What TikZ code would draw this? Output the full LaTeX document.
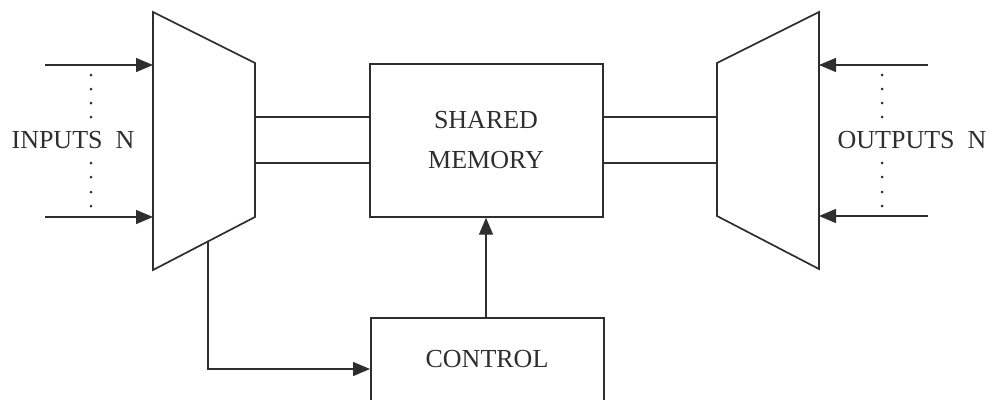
\documentclass[tikz,border=0pt]{standalone}
\usepackage{fontspec}
\setmainfont{Liberation Serif}
\usetikzlibrary{arrows.meta}
\definecolor{ink}{HTML}{2E2E2E}
\tikzset{
  line/.style={draw=ink, line width=1.4pt},
  box/.style={draw=ink, line width=1.7pt, minimum width=233pt, anchor=north west},
  lbl/.style={font=\fontsize{26}{31}\selectfont, text=ink, align=center, inner sep=0pt},
  tip/.style={-{Triangle[length=17pt,width=14pt,fill=ink]}, draw=ink, line width=1.4pt},
  dotrow/.style={ink, fill=ink}
}
\begin{document}
\begin{tikzpicture}[x=1pt,y=-1pt]
  \useasboundingbox (0,0) rectangle (992,399);

  % switch corners
  \coordinate (lTL) at (153,12);
  \coordinate (lBL) at (153,270);
  \coordinate (lTR) at (255,63);
  \coordinate (lBR) at (255,217);
  \coordinate (rTR) at (819,12);
  \coordinate (rBR) at (819,269);
  \coordinate (rTL) at (717,63);
  \coordinate (rBL) at (717,216);
  \draw[line, line width=1.7pt, line join=miter] (lTL) -- (lTR) -- (lBR) -- (lBL) -- cycle;
  \draw[line, line width=1.7pt, line join=miter] (rTR) -- (rTL) -- (rBL) -- (rBR) -- cycle;

  % boxes
  \node[box, minimum height=153pt] (mem) at (369,63) {};
  \node[lbl] (memtxt) at (486,140) {SHARED\\[9pt]MEMORY};
  \node[box, minimum height=100pt] (ctl) at (370,317) {};
  \node[lbl] (ctltxt) at (487,359) {CONTROL};

  % labels
  \node[lbl] (inlbl) at (73,140) {INPUTS\ \ N};
  \node[lbl] (outlbl) at (912,140) {OUTPUTS\ \ N};

  % input arrows
  \coordinate (in1) at (45,65);
  \coordinate (in2) at (45,217);
  \draw[tip] (in1) -- (lTL |- in1);
  \draw[tip] (in2) -- (lTL |- in2);

  % output arrows
  \coordinate (out1) at (928,65);
  \coordinate (out2) at (928,216);
  \draw[tip] (out1) -- (rTR |- out1);
  \draw[tip] (out2) -- (rTR |- out2);

  % dots between ports
  \foreach \yy in {75,89,103,117,163,177,192,206} {
    \fill[dotrow] (91,\yy) circle (1.5pt);
    \fill[dotrow] (882,\yy) circle (1.5pt);
  }

  % data buses
  \coordinate (b1) at (255,117);
  \coordinate (b2) at (255,163);
  \draw[line] (b1) -- (mem.west |- b1);
  \draw[line] (b2) -- (mem.west |- b2);
  \coordinate (c1) at (717,117);
  \coordinate (c2) at (717,163);
  \draw[line] (mem.east |- c1) -- (c1);
  \draw[line] (mem.east |- c2) -- (c2);

  % control paths
  \coordinate (tap) at (208,241);
  \draw[tip] (tap) |- (ctl.west |- 0,369);
  \coordinate (up) at (486,317);
  \draw[tip] (up) -- (up |- mem.south);
\end{tikzpicture}
\end{document}
